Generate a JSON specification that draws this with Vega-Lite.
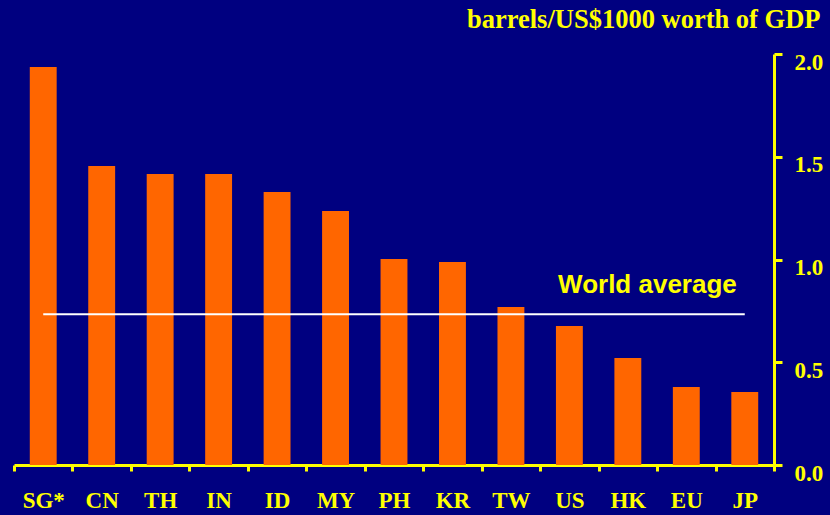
{
  "$schema": "https://vega.github.io/schema/vega-lite/v6.json",
  "width": 760,
  "height": 411,
  "autosize": {"type": "none"},
  "padding": {"left": 14, "top": 54, "right": 56, "bottom": 50},
  "background": "#000080",
  "config": {"view": {"stroke": null}},
  "datasets": {
    "bars": [
      {"country": "SG*", "value": 1.937},
      {"country": "CN", "value": 1.455},
      {"country": "TH", "value": 1.416},
      {"country": "IN", "value": 1.416},
      {"country": "ID", "value": 1.328},
      {"country": "MY", "value": 1.236},
      {"country": "PH", "value": 1.002},
      {"country": "KR", "value": 0.988},
      {"country": "TW", "value": 0.769},
      {"country": "US", "value": 0.676},
      {"country": "HK", "value": 0.521},
      {"country": "EU", "value": 0.38},
      {"country": "JP", "value": 0.355}
    ],
    "avg": [
      {"from": "SG*", "to": "JP", "value": 0.733, "label": "World average"}
    ]
  },
  "layer": [
    {
      "data": {"name": "bars"},
      "mark": {"type": "bar", "color": "#FF6600", "width": {"band": 0.46}},
      "encoding": {
        "x": {
          "field": "country",
          "type": "nominal",
          "sort": null,
          "scale": {"paddingInner": 0, "paddingOuter": 0},
          "axis": {
            "title": null,
            "labelAngle": 0,
            "labelFont": "Liberation Serif",
            "labelFontWeight": "bold",
            "labelFontSize": 23,
            "labelColor": "#FFFF00",
            "labelBaseline": "top",
            "labelPadding": 18,
            "tickBand": "extent",
            "tickColor": "#FFFF00",
            "tickSize": 6,
            "tickWidth": 3,
            "domainColor": "#FFFF00",
            "domainWidth": 3,
            "grid": false
          }
        },
        "y": {
          "field": "value",
          "type": "quantitative",
          "scale": {"domain": [0, 2], "nice": false},
          "axis": {
            "orient": "right",
            "values": [0, 0.5, 1, 1.5, 2],
            "format": ".1f",
            "grid": false,
            "labelFont": "Liberation Serif",
            "labelFontWeight": "bold",
            "labelFontSize": 23,
            "labelColor": "#FFFF00",
            "labelBaseline": "top",
            "labelOffset": -3,
            "labelPadding": 12,
            "tickColor": "#FFFF00",
            "tickSize": 8,
            "tickWidth": 3,
            "domainColor": "#FFFF00",
            "domainWidth": 3,
            "title": "barrels/US$1000 worth of GDP",
            "titleAngle": 0,
            "titleAlign": "right",
            "titleBaseline": "alphabetic",
            "titleX": 46,
            "titleY": -27,
            "titleFont": "Liberation Serif",
            "titleFontWeight": "bold",
            "titleFontSize": 26.5,
            "titleColor": "#FFFF00"
          }
        }
      }
    },
    {
      "data": {"name": "avg"},
      "mark": {"type": "rule", "color": "#FFFFFF", "strokeWidth": 2},
      "encoding": {
        "x": {"field": "from", "type": "nominal", "sort": null},
        "x2": {"field": "to"},
        "y": {"field": "value", "type": "quantitative"}
      }
    },
    {
      "data": {"name": "avg"},
      "mark": {
        "type": "text",
        "color": "#FFFF00",
        "font": "Liberation Sans",
        "fontWeight": "bold",
        "fontSize": 26,
        "align": "right",
        "baseline": "alphabetic",
        "dx": -8,
        "dy": -21
      },
      "encoding": {
        "x": {"field": "to", "type": "nominal", "sort": null},
        "y": {"field": "value", "type": "quantitative"},
        "text": {"field": "label"}
      }
    }
  ]
}
